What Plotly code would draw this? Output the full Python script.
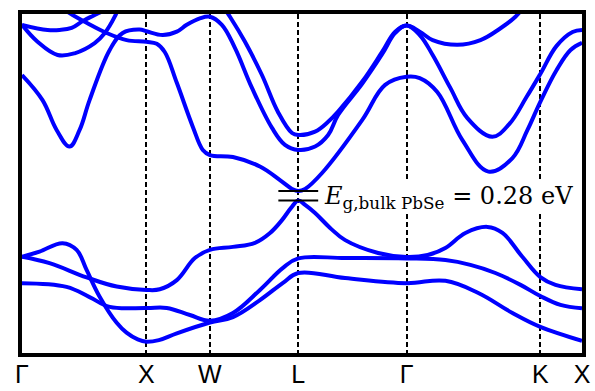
import plotly.graph_objects as go

# High-symmetry path (k-distance, units of 2pi/a) and labels
kpath_pos = [0.0, 1.0, 1.51, 2.22, 3.09, 4.165, 4.5]
kpath_lab = ["Γ", "X", "W", "L", "Γ", "K", "X"]

# Band gap at L
E_vbm = 0.0
E_gap = 0.28

# Valence bands (k, E in eV)
vb1_k = [0, 0.221, 0.519, 0.761, 1.0, 1.107, 1.244, 1.389, 1.51, 1.695, 1.872, 1.993, 2.089, 2.162, 2.22,
         2.275, 2.355, 2.476, 2.597, 2.862, 3.09, 3.26, 3.402, 3.563, 3.74, 3.861, 4.022, 4.165, 4.287, 4.5]
vb1_E = [-1.66, -1.85, -2.27, -2.54, -2.64, -2.62, -2.35, -1.70, -1.46, -1.37, -1.25, -0.96, -0.58, -0.22, 0.0,
         -0.13, -0.37, -0.81, -1.17, -1.55, -1.67, -1.61, -1.40, -0.96, -0.78, -0.96, -1.67, -2.26, -2.49, -2.62]

vb2_k = [0, 0.141, 0.326, 0.439, 0.519, 0.624, 0.761, 0.84, 0.93, 1.0, 1.1, 1.244, 1.51, 1.695, 1.912, 2.097,
         2.22, 2.597, 3.09, 3.402, 3.667, 3.941, 4.165, 4.5]
vb2_E = [-1.66, -1.51, -1.26, -1.46, -2.05, -2.84, -3.61, -3.90, -4.10, -4.17, -4.12, -3.92, -3.60, -3.44, -2.94,
         -2.43, -2.14, -2.29, -2.44, -2.37, -2.73, -3.32, -3.73, -4.14]

vb3_k = [0, 0.358, 0.543, 0.705, 1.0, 1.163, 1.349, 1.51, 1.695, 1.912, 2.097, 2.22,
         2.597, 3.09, 3.402, 3.603, 3.804, 4.006, 4.165, 4.327, 4.5]
vb3_E = [-2.44, -2.55, -2.85, -3.14, -3.17, -3.17, -3.38, -3.55, -3.32, -2.64, -1.99, -1.71,
         -1.70, -1.71, -1.76, -1.90, -2.14, -2.49, -2.82, -3.08, -3.18]

# Conduction bands
cb1_k = [0.181, 0.302, 0.407, 0.519, 0.68, 0.841, 1.0, 1.083, 1.147, 1.244, 1.373, 1.453, 1.51, 1.695, 1.912,
         2.073, 2.17, 2.22, 2.275, 2.411, 2.733, 2.918, 3.09, 3.196, 3.337, 3.539, 3.748, 3.941, 4.062, 4.165,
         4.296, 4.408, 4.5]
cb1_E = [5.91, 5.71, 5.47, 5.24, 4.94, 4.73, 4.68, 4.62, 4.38, 3.47, 2.17, 1.49, 1.34, 1.28, 1.0,
         0.60, 0.34, 0.28, 0.34, 0.81, 2.37, 3.41, 3.65, 3.61, 3.20, 1.78, 0.85, 1.25, 2.08, 2.91,
         3.85, 4.44, 4.65]

cb2_k = [0, 0.165, 0.278, 0.382, 0.463, 0.543, 0.705, 0.809, 0.946, 1.0, 1.131, 1.244, 1.324, 1.429, 1.51,
         1.606, 1.711, 1.848, 2.009, 2.113, 2.22, 2.355, 2.46, 2.54, 2.733, 2.895, 2.999, 3.09,
         3.196, 3.3, 3.442, 3.579, 3.78, 3.917, 4.054, 4.165, 4.296, 4.424, 4.5]
cb2_E = [3.70, 2.96, 2.08, 1.59, 2.08, 2.96, 4.44, 4.94, 5.04, 4.99, 4.88, 4.98, 5.18, 5.37, 5.42,
         5.18, 4.50, 3.32, 2.14, 1.64, 1.49, 1.59, 1.93, 2.52, 3.44, 4.32, 4.94, 5.16,
         4.88, 4.29, 3.32, 2.43, 1.88, 2.26, 3.05, 3.73, 4.56, 4.97, 5.03]

cb3_k = [1.55, 1.606, 1.671, 1.792, 1.928, 2.057, 2.17, 2.22, 2.355, 2.46, 2.54, 2.733, 2.895, 2.999, 3.09,
         3.196, 3.3, 3.499, 3.684, 3.845, 3.965, 4.046, 4.103]
cb3_E = [6.06, 5.77, 5.42, 4.68, 3.70, 2.61, 1.99, 1.93, 2.03, 2.32, 2.62, 3.50, 4.39, 4.98, 5.16,
         4.98, 4.73, 4.59, 4.73, 5.08, 5.42, 5.77, 6.06]

cb4_k = [0, 0.205, 0.302, 0.399, 0.487, 0.584, 0.664, 0.745, 0.785]
cb4_E = [5.18, 5.03, 5.03, 5.09, 5.29, 5.47, 5.62, 5.86, 6.0]

cb5_k = [0, 0.125, 0.286, 0.423, 0.584, 0.664, 0.745, 0.785, 0.809]
cb5_E = [5.18, 4.68, 4.29, 4.34, 4.64, 4.93, 5.42, 5.77, 6.0]

bands = [(vb1_k, vb1_E), (vb2_k, vb2_E), (vb3_k, vb3_E),
         (cb1_k, cb1_E), (cb2_k, cb2_E), (cb3_k, cb3_E), (cb4_k, cb4_E), (cb5_k, cb5_E)]

# Gap marker extent (k)
gap_bar_k = [2.06, 2.38]

fig = go.Figure()
for k, E in bands:
    fig.add_trace(go.Scatter(x=k, y=E, mode="lines",
                             line=dict(color="#0000ff", width=4, shape="spline", smoothing=1.1),
                             hoverinfo="skip", showlegend=False))

for e in (E_vbm, E_vbm + E_gap):
    fig.add_trace(go.Scatter(x=gap_bar_k, y=[e, e], mode="lines",
                             line=dict(color="black", width=2), showlegend=False, hoverinfo="skip"))

fig.add_annotation(x=2.42, y=0.08, xref="x", yref="y", xanchor="left", yanchor="middle",
                   text="<i>E</i><sub>g,bulk PbSe</sub> = %.2f eV" % E_gap, showarrow=False,
                   font=dict(family="DejaVu Serif", size=24, color="black"),
                   bgcolor="white", borderpad=0)

fig.update_layout(
    width=595, height=391,
    margin=dict(l=22, r=13, t=14, b=38, autoexpand=False),
    paper_bgcolor="white", plot_bgcolor="white",
    xaxis=dict(range=[0, 4.5], tickvals=kpath_pos, ticktext=kpath_lab, ticks="", automargin=False,
               ticklabelstandoff=-4,
               showgrid=True, gridcolor="black", gridwidth=1.5, griddash="5px,3px",
               showline=True, linecolor="black", linewidth=3.5, mirror=True, zeroline=False,
               tickfont=dict(family="Liberation Sans", size=25, color="black")),
    yaxis=dict(range=[-4.5, 5.5], showticklabels=False, ticks="", showgrid=False, zeroline=False,
               automargin=False,
               showline=True, linecolor="black", linewidth=3.5, mirror=True),
)

fig.write_html("out.html")
